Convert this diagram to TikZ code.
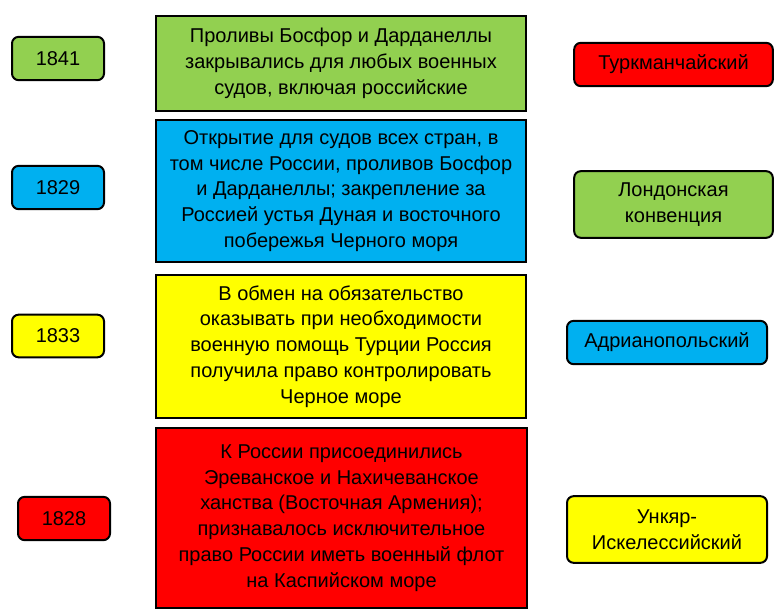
\documentclass[tikz,border=0pt]{standalone}
\usepackage{fontspec}
\setmainfont{Liberation Sans}
\definecolor{cgreen}{HTML}{92D050}
\definecolor{cblue}{HTML}{00B0F0}
\definecolor{cyellow}{HTML}{FFFF00}
\definecolor{cred}{HTML}{FF0000}
\begin{document}
\begin{tikzpicture}[x=0.75pt,y=-0.75pt,
  box/.style={draw=black,line width=1.5pt,inner sep=0pt,align=center,
    font=\fontsize{15}{19.4}\selectfont},
  yearbox/.style={box,rounded corners=5pt},
  treatybox/.style={box,rounded corners=5pt},
  textbox/.style={box}]
\useasboundingbox (0,0) rectangle (779,614);
% left year boxes
\node[yearbox,fill=cgreen,minimum width=69pt,minimum height=32.5pt] (y1) at (58,58.5) {1841};
\node[yearbox,fill=cblue,minimum width=69pt,minimum height=32.5pt] (y2) at (58,187.5) {1829};
\node[yearbox,fill=cyellow,minimum width=69pt,minimum height=32pt] (y3) at (58,336) {1833};
\node[yearbox,fill=cred,minimum width=69pt,minimum height=32.5pt] (y4) at (64,518.5) {1828};
% center boxes
\node[textbox,fill=cgreen,minimum width=277.5pt,minimum height=71.5pt] (t1) at (341,63.5)
  {Проливы Босфор и Дарданеллы\\закрывались для любых военных\\судов, включая российские};
\node[textbox,fill=cblue,minimum width=277.5pt,minimum height=106.5pt] (t2) at (341,191)
  {Открытие для судов всех стран, в\\том числе России, проливов Босфор\\и Дарданеллы; закрепление за\\Россией устья Дуная и восточного\\побережья Черного моря};
\node[textbox,fill=cyellow,minimum width=277.5pt,minimum height=107pt] (t3) at (341,346.5)
  {В обмен на обязательство\\оказывать при необходимости\\военную помощь Турции Россия\\получила право контролировать\\Черное море};
\node[textbox,fill=cred,minimum width=278pt,minimum height=135pt] (t4) at (341.5,518)
  {К России присоединились\\Эреванское и Нахичеванское\\ханства (Восточная Армения);\\признавалось исключительное\\право России иметь военный флот\\на Каспийском море};
% right treaty boxes
\node[treatybox,fill=cred,minimum width=149pt,minimum height=32.5pt] (r1) at (673.5,64.5) {Туркманчайский};
\node[treatybox,fill=cgreen,minimum width=149pt,minimum height=50pt] (r2) at (673.5,204.5) {Лондонская\\конвенция};
\node[treatybox,fill=cblue,minimum width=150pt,minimum height=32.5pt] (r3) at (667,342.5) {Адрианопольский};
\node[treatybox,fill=cyellow,minimum width=150pt,minimum height=50pt] (r4) at (667,529.5) {Ункяр-\\Искелессийский};
\end{tikzpicture}
\end{document}
